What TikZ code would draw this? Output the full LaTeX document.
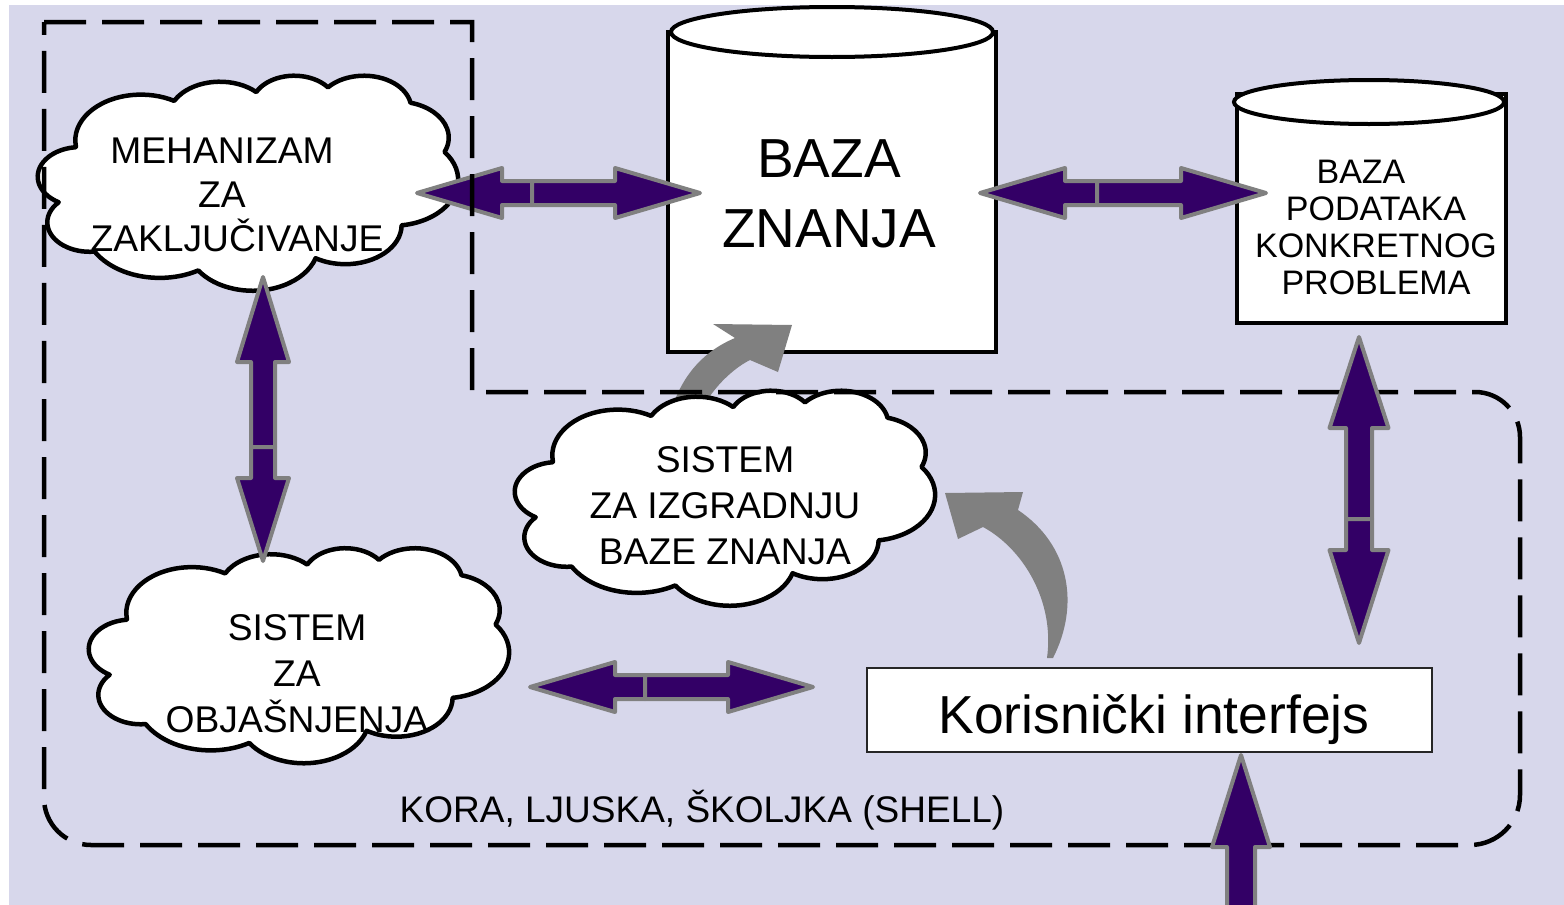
\documentclass[tikz,border=0pt]{standalone}
\usepackage{fontspec}
\setmainfont{Liberation Sans}
\usetikzlibrary{calc}
\definecolor{bglav}{HTML}{D7D7EB}
\definecolor{arrpurple}{HTML}{330066}
\definecolor{arrgray}{HTML}{808080}
\newcommand\fsCloud{\fontsize{37.2pt}{46pt}\selectfont}
\newcommand\fsCloudA{\fontsize{37.2pt}{44pt}\selectfont}
\newcommand\fsKB{\fontsize{55pt}{70pt}\selectfont}
\newcommand\fsDB{\fontsize{34pt}{37pt}\selectfont}
\newcommand\fsUI{\fontsize{53.5pt}{60pt}\selectfont}
\newcommand\fsShell{\fontsize{37pt}{44pt}\selectfont}
\tikzset{
 cloudline/.style={draw=black, fill=white, line width=4.5pt, line join=round},
 barrow/.style={fill=arrpurple, draw=arrgray, line width=4pt, line join=round},
 garrow/.style={fill=arrgray, draw=none},
 dbbody/.style={draw=black, fill=white, line width=4pt, inner sep=0pt, align=center},
 dbtop/.style={draw=black, fill=white, line width=4pt},
 shellline/.style={draw=black, line width=4.5pt, dash pattern=on 42pt off 16pt},
 txt/.style={inner sep=0pt, align=center, text=black},
 uibox/.style={draw=black!85, fill=white, line width=1.5pt, inner sep=0pt},
}
% PowerPoint-like cloud, 420 x 215, centred at (#1,#2)
\newcommand\pptcloud[2]{%
 \draw[cloudline] ({#1-172.08},{#2-35.98})
 arc[start angle=-187.75, delta angle=128.11, x radius=65.65, y radius=45.74]
 arc[start angle=-151.98, delta angle=106.49, x radius=51.85, y radius=36.17]
 arc[start angle=-153.46, delta angle=116.10, x radius=42.44, y radius=29.59]
 arc[start angle=-139.78, delta angle=129.58, x radius=47.22, y radius=32.82]
 arc[start angle=-74.80, delta angle=98.06, x radius=51.85, y radius=36.20]
 arc[start angle=-37.52, delta angle=119.38, x radius=65.87, y radius=45.89]
 arc[start angle=0.46, delta angle=121.54, x radius=56.24, y radius=39.15]
 arc[start angle=16.90, delta angle=129.24, x radius=65.64, y radius=45.86]
 arc[start angle=59.09, delta angle=91.01, x radius=75.06, y radius=52.47]
 arc[start angle=83.29, delta angle=139.75, x radius=42.39, y radius=29.45]
 arc[start angle=120.22, delta angle=143.92, x radius=42.24, y radius=29.59]
 -- cycle;}
% block arrow from base #1 to tip #2: shaft half #3, head half #4, head length #5
\newcommand\blockarrow[5]{%
 \path ($(#2)!#5!(#1)$) coordinate (hb);
 \draw[barrow] ($(#1)!#3!90:(#2)$) -- ($(hb)!#3!90:(#2)$) -- ($(hb)!#4!90:(#2)$)
   -- (#2) -- ($(hb)!#4!-90:(#2)$) -- ($(hb)!#3!-90:(#2)$) -- ($(#1)!#3!-90:(#2)$) -- cycle;}

\begin{document}
\begin{tikzpicture}[x=1pt, y=-1pt]
\useasboundingbox (0,0) rectangle (1564,905);
\fill[white] (0,0) rectangle (1564,905);
\fill[bglav] (9,5) rectangle (1564,905);

% knowledge base cylinder
\node[dbbody, minimum width=328pt, minimum height=320pt] (kb) at (832,192) {};
\draw[dbtop] (832,32) ellipse [x radius=161, y radius=25];
\node[txt, font=\fsKB] (kbt) at (829,194) {BAZA\\ZNANJA};

% problem database cylinder
\node[dbbody, minimum width=269pt, minimum height=229pt] (db) at (1371.5,208.5) {};
\draw[dbtop] (1369,102) ellipse [x radius=135, y radius=22];
\node[txt, font=\fsDB] (dbt) at (1376,227) {BAZA\hspace*{30pt}\\PODATAKA\\KONKRETNOG\\PROBLEMA};

% user interface box
\node[uibox, minimum width=565pt, minimum height=84pt] (ui) at (1149.5,710) {};
\node[txt, font=\fsUI] (uit) at (1154,720) {Korisnički interfejs};

% grey curved arrows
\path[garrow] (668,425) .. controls (674,392) and (692,356) .. (735,338) -- (713,324) -- (792,325)
  -- (778,372) -- (750,360) .. controls (730,370) and (705,395) .. (695,425) -- cycle;
\path[garrow] (1053,658) .. controls (1080,605) and (1070,545) .. (1018,510) -- (1023,492) -- (945,493)
  -- (958,539) -- (983,527) .. controls (1022,548) and (1055,600) .. (1047,658) -- cycle;

% clouds
\pptcloud{248}{182.5}
\pptcloud{725}{497.5}
\pptcloud{299}{655}

% arrow coordinates
\coordinate (aM) at (532,193); \coordinate (aL) at (417,193); \coordinate (aR) at (700,193);
\coordinate (bM) at (1097,193); \coordinate (bL) at (980,193); \coordinate (bR) at (1266,193);
\coordinate (cM) at (263,447); \coordinate (cT) at (263,277); \coordinate (cB) at (263,561);
\coordinate (dM) at (1359,519); \coordinate (dT) at (1359,337); \coordinate (dB) at (1359,643);
\coordinate (eM) at (645,687); \coordinate (eL) at (530,687); \coordinate (eR) at (813,687);
\coordinate (fS) at (1241,940); \coordinate (fT) at (1241,755);

\blockarrow{aM}{aL}{12pt}{25pt}{85pt}
\blockarrow{aM}{aR}{12pt}{25pt}{85pt}

% shell outline
\draw[shellline] (44,22) -- (472,22) -- (472,392) -- (1475,392) arc[start angle=-90, end angle=0, radius=45]
  -- (1520,795) arc[start angle=0, end angle=90, radius=50]
  -- (91,845) arc[start angle=90, end angle=180, radius=47] -- cycle;

\blockarrow{bM}{bL}{12pt}{25pt}{85pt}
\blockarrow{bM}{bR}{12pt}{25pt}{85pt}
\blockarrow{cM}{cT}{12pt}{26pt}{85pt}
\blockarrow{cM}{cB}{12pt}{26pt}{83pt}
\blockarrow{dM}{dT}{13pt}{29.5pt}{91pt}
\blockarrow{dM}{dB}{13pt}{29.5pt}{93pt}
\blockarrow{eM}{eL}{12pt}{25pt}{85pt}
\blockarrow{eM}{eR}{12pt}{25pt}{85pt}
\blockarrow{fS}{fT}{14pt}{29pt}{92pt}

% texts
\node[txt, font=\fsCloudA] (c1) at (222,195) {MEHANIZAM\\ZA\\\hspace*{30pt}ZAKLJUČIVANJE};
\node[txt, font=\fsCloud] (c2) at (725,506) {SISTEM\\ZA IZGRADNJU\\BAZE ZNANJA};
\node[txt, font=\fsCloud] (c3) at (297,674) {SISTEM\\ZA\\OBJAŠNJENJA};
\node[txt, font=\fsShell] (shell) at (702,810) {KORA, LJUSKA, ŠKOLJKA (SHELL)};
\end{tikzpicture}
\end{document}
